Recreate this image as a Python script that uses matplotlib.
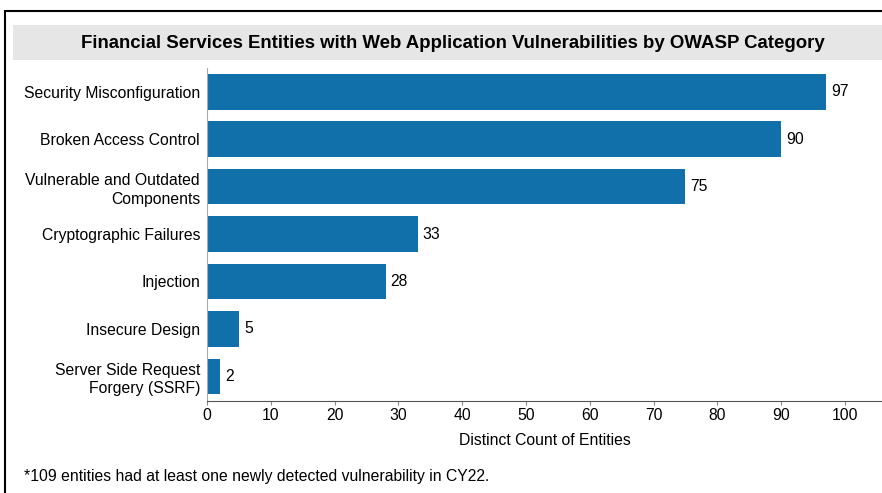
import matplotlib
matplotlib.use('Agg')
import matplotlib.pyplot as plt
from matplotlib.patches import Rectangle

plt.rcParams['font.family'] = ['Liberation Sans', 'DejaVu Sans']

# datos
categorias = ['Security Misconfiguration', 'Broken Access Control',
              'Vulnerable and Outdated\nComponents', 'Cryptographic Failures',
              'Injection', 'Insecure Design', 'Server Side Request\nForgery (SSRF)']
valores = [97, 90, 75, 33, 28, 5, 2]
ticks_x = [0, 10, 20, 30, 40, 50, 60, 70, 80, 90, 100]

titulo = 'Financial Services Entities with Web Application Vulnerabilities by OWASP Category'
nota = '*109 entities had at least one newly detected vulnerability in CY22.'

fig = plt.figure(figsize=(8.82, 4.93), dpi=100)

# marco negro y caja gris del titulo
fig.add_artist(Rectangle((5/882, -0.1), 1.2, 1 - 11/493 + 0.1, transform=fig.transFigure,
                         fill=False, edgecolor='black', linewidth=1.5))
fig.add_artist(Rectangle((13/882, 1 - 60/493), 1.0, 35/493, transform=fig.transFigure,
                         facecolor='#e6e6e6', edgecolor='none'))
fig.text(453/882, 1 - 43/493, titulo, ha='center', va='center',
         fontsize=13.4, fontweight='bold')

ax = fig.add_axes([207/882, 1 - 401/493, 1 - 207/882, (401 - 68)/493])
pos = range(len(categorias))
barras = ax.barh(pos, valores, height=0.75, color='#1170aa')
for b, v in zip(barras, valores):
    ax.text(v + 0.8, b.get_y() + b.get_height()/2, str(v), va='center',
            ha='left', fontsize=11.3)

ax.set_yticks(list(pos))
ax.set_yticklabels(categorias, fontsize=11.3, linespacing=1.3)
ax.set_ylim(6.52, -0.5)
ax.set_xlim(0, 105.8)
ax.set_xticks(ticks_x)
ax.tick_params(axis='x', labelsize=11.3, length=3, color='#888888', pad=2)
ax.tick_params(axis='y', length=0, pad=5)
ax.set_xlabel('Distinct Count of Entities', fontsize=11.3, labelpad=7)

ax.spines['top'].set_visible(False)
ax.spines['right'].set_visible(False)
ax.spines['left'].set_color('#aaaaaa')
ax.spines['bottom'].set_color('#555555')

fig.text(24/882, 1 - 476/493, nota, ha='left', va='center', fontsize=11.3)

fig.savefig('out.png', dpi=100)
